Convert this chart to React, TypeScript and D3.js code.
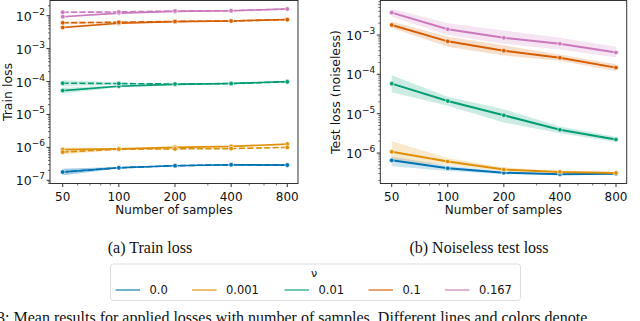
import React from "react";
import * as d3 from "d3";

// x values shared by both panels
const samples = [50, 100, 200, 400, 800];
const nuLabels = ["0.0", "0.001", "0.01", "0.1", "0.167"];
const palette = ["#0173b2", "#de8f05", "#029e73", "#d55e00", "#cc78bc"];

// (a) train loss, solid lines
const train_nu0 = [1.78e-7, 2.4e-7, 2.78e-7, 2.97e-7, 2.9e-7];
const train_nu0001 = [8.6e-7, 9.0e-7, 1.0e-6, 1.07e-6, 1.26e-6];
const train_nu001 = [5.3e-5, 7.2e-5, 8.2e-5, 8.7e-5, 1.0e-4];
const train_nu01 = [4.4e-3, 5.9e-3, 6.6e-3, 6.9e-3, 7.7e-3];
const train_nu0167 = [9.3e-3, 1.2e-2, 1.35e-2, 1.42e-2, 1.6e-2];

// (a) train loss, dashed lines
const trainDash_nu0 = [1.78e-7, 2.4e-7, 2.78e-7, 2.97e-7, 2.9e-7];
const trainDash_nu0001 = [7.2e-7, 8.8e-7, 9.0e-7, 9.2e-7, 1.0e-6];
const trainDash_nu001 = [8.9e-5, 8.7e-5, 8.4e-5, 8.7e-5, 9.8e-5];
const trainDash_nu01 = [6.1e-3, 6.3e-3, 6.7e-3, 6.9e-3, 7.6e-3];
const trainDash_nu0167 = [1.27e-2, 1.3e-2, 1.39e-2, 1.42e-2, 1.6e-2];

// (a) multiplicative band spread
const trainSpread_nu0 = [1.25, 1.06, 1.03, 1.03, 1.03];
const trainSpread_nu0001 = [1.18, 1.05, 1.04, 1.03, 1.03];
const trainSpread_nu001 = [1.22, 1.08, 1.04, 1.03, 1.03];
const trainSpread_nu01 = [1.1, 1.05, 1.03, 1.03, 1.03];
const trainSpread_nu0167 = [1.08, 1.04, 1.03, 1.03, 1.03];

// (b) noiseless test loss, mean and band
const test_nu0 = [6.5e-7, 4.1e-7, 3.15e-7, 2.9e-7, 2.95e-7];
const test_nu0001 = [1.07e-6, 6.1e-7, 3.8e-7, 3.3e-7, 3.1e-7];
const test_nu001 = [5.8e-5, 2.1e-5, 9.1e-6, 3.9e-6, 2.2e-6];
const test_nu01 = [1.8e-3, 6.9e-4, 4.0e-4, 2.64e-4, 1.48e-4];
const test_nu0167 = [3.7e-3, 1.4e-3, 8.5e-4, 6.0e-4, 3.6e-4];

const testLo_nu0 = [4.6e-7, 3.5e-7, 2.9e-7, 2.8e-7, 2.8e-7];
const testHi_nu0 = [8.0e-7, 4.8e-7, 3.4e-7, 3.0e-7, 3.1e-7];
const testLo_nu0001 = [6.0e-7, 5.0e-7, 3.4e-7, 3.1e-7, 2.9e-7];
const testHi_nu0001 = [2.0e-6, 7.5e-7, 4.3e-7, 3.5e-7, 3.3e-7];
const testLo_nu001 = [3.5e-5, 1.6e-5, 6.0e-6, 3.2e-6, 1.9e-6];
const testHi_nu001 = [9.5e-5, 2.7e-5, 1.3e-5, 4.7e-6, 2.6e-6];
const testLo_nu01 = [1.5e-3, 5.0e-4, 3.0e-4, 2.2e-4, 1.2e-4];
const testHi_nu01 = [2.2e-3, 9.0e-4, 5.5e-4, 3.2e-4, 1.8e-4];
const testLo_nu0167 = [2.9e-3, 1.0e-3, 6.0e-4, 4.3e-4, 2.7e-4];
const testHi_nu0167 = [4.7e-3, 2.0e-3, 1.3e-3, 8.5e-4, 5.0e-4];

const trainYTicks = [1e-2, 1e-3, 1e-4, 1e-5, 1e-6, 1e-7];
const testYTicks = [1e-3, 1e-4, 1e-5, 1e-6];

type Series = { color: string; values: number[]; lo: number[]; hi: number[]; dashed?: boolean };

const trainSolid = [train_nu0, train_nu0001, train_nu001, train_nu01, train_nu0167];
const trainDash = [trainDash_nu0, trainDash_nu0001, trainDash_nu001, trainDash_nu01, trainDash_nu0167];
const trainSpread = [trainSpread_nu0, trainSpread_nu0001, trainSpread_nu001, trainSpread_nu01, trainSpread_nu0167];
const trainSeries: Series[] = [];
trainSolid.forEach((vals, i) => {
  const sp = trainSpread[i];
  const d = trainDash[i];
  trainSeries.push({ color: palette[i], values: vals, lo: vals.map((v, j) => v / sp[j]), hi: vals.map((v, j) => v * sp[j]) });
  trainSeries.push({ color: palette[i], values: d, lo: d.map((v, j) => v / sp[j]), hi: d.map((v, j) => v * sp[j]), dashed: true });
});

const testMean = [test_nu0, test_nu0001, test_nu001, test_nu01, test_nu0167];
const testLo = [testLo_nu0, testLo_nu0001, testLo_nu001, testLo_nu01, testLo_nu0167];
const testHi = [testHi_nu0, testHi_nu0001, testHi_nu001, testHi_nu01, testHi_nu0167];
const testSeries: Series[] = testMean.map((v, i) => ({ color: palette[i], values: v, lo: testLo[i], hi: testHi[i] }));

const font = "DejaVu Sans, sans-serif";
const serif = "Liberation Serif, Times New Roman, serif";

const Panel = ({ left, right, x50, x800, yDomain, yRange, yTicks, series, yLabel, yLabelX, lineW }: any) => {
  const top = 0.5;
  const bottom = 183.5;
  const x = d3.scaleLog().base(2).domain([50, 800]).range([x50, x800]);
  const y = d3.scaleLog().domain(yDomain).range(yRange);
  const yTop = y.invert(top);
  const yBot = y.invert(bottom);

  const line = d3.line<number>().x((_, i) => x(samples[i])).y(v => y(v));
  const area = d3.area<number>().x((_, i) => x(samples[i]));

  const xMinor = [60, 70, 80, 90, 300, 500, 600, 700].filter(v => x(v) > left && x(v) < right);
  const yMinor: number[] = [];
  for (let e = -9; e <= 0; e++) {
    for (let m = 2; m <= 9; m++) {
      const v = m * Math.pow(10, e);
      if (v < yTop && v > yBot) yMinor.push(v);
    }
  }

  return (
    <g>
      <defs>
        <clipPath id={`clip${Math.round(left)}`}>
          <rect x={left} y={top} width={right - left} height={bottom - top} />
        </clipPath>
      </defs>
      <g clipPath={`url(#clip${Math.round(left)})`}>
        {series.map((s: Series, k: number) => {
          const bandPath = area.y0((_, i) => y(s.lo[i])).y1((_, i) => y(s.hi[i]))(s.values) || "";
          return <path key={"b" + k} d={bandPath} fill={s.color} opacity={0.2} stroke="none" />;
        })}
        {series.map((s: Series, k: number) => (
          <g key={"l" + k}>
            <path d={line(s.values) || ""} fill="none" stroke={s.color} strokeWidth={lineW}
              strokeDasharray={s.dashed ? "6,2.4" : undefined} />
            {s.values.map((v, i) => (
              <circle key={i} cx={x(samples[i])} cy={y(v)} r={2.3} fill={s.color} stroke="#fff" strokeWidth={0.6} />
            ))}
          </g>
        ))}
      </g>
      <rect x={left} y={top} width={right - left} height={bottom - top} fill="none" stroke="#333" strokeWidth={1} />
      {samples.map(v => (
        <g key={v}>
          <line x1={x(v)} x2={x(v)} y1={bottom} y2={bottom + 3.5} stroke="#333" />
          <text x={x(v)} y={200.5} textAnchor="middle" fontSize={12} fontFamily={font} fill="#111">{v}</text>
        </g>
      ))}
      {xMinor.map(v => (
        <line key={v} x1={x(v)} x2={x(v)} y1={bottom} y2={bottom + 2} stroke="#333" strokeWidth={0.7} />
      ))}
      {yTicks.map((t: number) => (
        <g key={t}>
          <line x1={left - 3.5} x2={left} y1={y(t)} y2={y(t)} stroke="#333" />
          <text x={left - 5} y={y(t) + 5} textAnchor="end" fontFamily={font} fill="#111">
            <tspan fontSize={12.5}>10</tspan>
            <tspan fontSize={9} dy={-6}>{"\u2212" + Math.round(-Math.log10(t))}</tspan>
          </text>
        </g>
      ))}
      {yMinor.map(v => (
        <line key={v} x1={left - 2} x2={left} y1={y(v)} y2={y(v)} stroke="#333" strokeWidth={0.7} />
      ))}
      <text x={(left + right) / 2} y={214} textAnchor="middle" fontSize={12} fontFamily={font} fill="#111">Number of samples</text>
      <text transform={`translate(${yLabelX},${(top + bottom) / 2}) rotate(-90)`} textAnchor="middle" fontSize={12.5}
        fontFamily={font} fill="#111">{yLabel}</text>
    </g>
  );
};

const Legend = () => {
  const lineX = [115.5, 192, 284.5, 368.5, 445];
  return (
    <g>
      <rect x={110.5} y={264} width={410} height={36.5} rx={3} fill="#fff" stroke="#ddd" strokeWidth={1} />
      <text x={314} y={276.5} textAnchor="middle" fontSize={11} fontFamily={font} fill="#111">ν</text>
      {nuLabels.map((lab, i) => (
        <g key={lab}>
          <line x1={lineX[i]} x2={lineX[i] + 24.5} y1={290} y2={290} stroke={palette[i]} strokeWidth={1.6} opacity={0.7} />
          <text x={lineX[i] + 34} y={294} fontSize={11.5} fontFamily={font} fill="#111">{lab}</text>
        </g>
      ))}
    </g>
  );
};

export default function App() {
  return (
    <div style={{ position: "absolute", left: 0, top: 0 }}>
      <svg width={640} height={321} style={{ display: "block", background: "#fff" }}>
        <Panel left={50} right={298} x50={62.7} x800={287.3} yDomain={[1e-2, 1e-7]} yRange={[15.7, 180.3]}
          yTicks={trainYTicks} series={trainSeries} yLabel="Train loss" yLabelX={12} lineW={1.6} />
        <Panel left={380.3} right={626.7} x50={391.7} x800={616} yDomain={[1e-3, 1e-6]} yRange={[35, 153]}
          yTicks={testYTicks} series={testSeries} yLabel="Test loss (noiseless)" yLabelX={340} lineW={2} />
        <text x={150} y={253} textAnchor="middle" fontSize={16} fontFamily={serif} fill="#111">(a) Train loss</text>
        <text x={479} y={253} textAnchor="middle" fontSize={16} fontFamily={serif} fill="#111">(b) Noiseless test loss</text>
        <Legend />
        <text x={-3} y={323} fontSize={16} fontFamily={serif} fill="#111">
          3:  Mean results for applied losses with number of samples.  Different lines and colors denote
        </text>
      </svg>
    </div>
  );
}
